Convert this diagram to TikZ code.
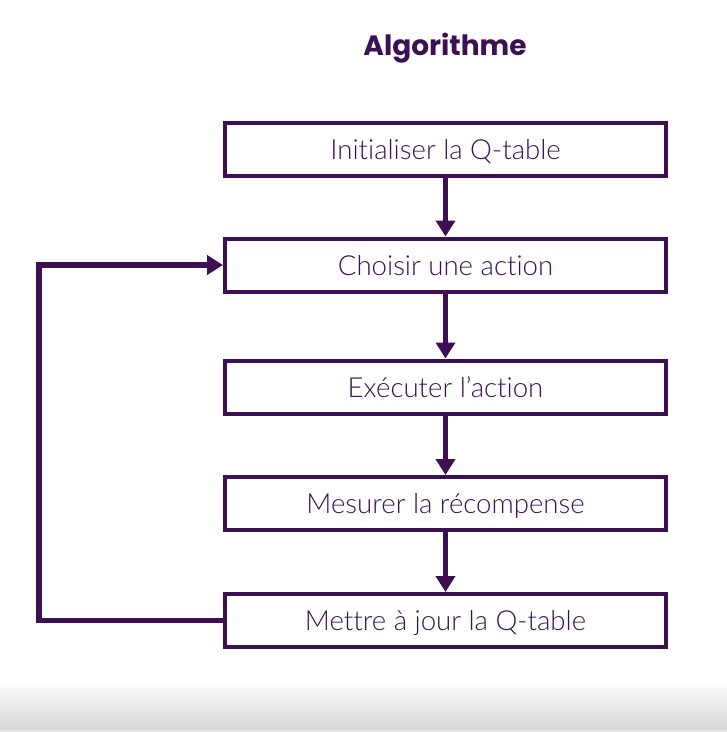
\documentclass[tikz,border=0pt]{standalone}
\usepackage{fontspec}
\newfontfamily\boxfont{Lato Light}[Ligatures={NoCommon,NoContextual}]
\newfontfamily\titlefont{Poppins}
\usetikzlibrary{arrows.meta}
\definecolor{aubergine}{HTML}{3C1053}
\tikzset{
  stepbox/.style={draw=aubergine, line width=4pt, rectangle, minimum width=441pt, minimum height=53pt,
    inner sep=0pt, text height=20pt, text depth=0pt, text=aubergine, font=\boxfont\fontsize{27.6pt}{27.6pt}\selectfont},
  flow/.style={draw=aubergine, line width=5pt, -{Triangle[width=19pt,length=16pt]}},
  loopflow/.style={draw=aubergine, line width=5.5pt, line join=miter, -{Triangle[width=19pt,length=16pt]}},
  titletext/.style={text=aubergine, inner sep=0pt, font=\titlefont\bfseries\fontsize{28pt}{28pt}\selectfont}
}
\begin{document}
\begin{tikzpicture}[x=1pt, y=-1pt]
\useasboundingbox (0,0) rectangle (727,732);
\shade[top color=white, bottom color=black!16] (0,680) rectangle (727,730);
\fill[black!9] (0,730) rectangle (727,732);
\node[titletext, anchor=base] (title) at (445,55) {Algorithme};
\node[stepbox] (a) at (445.5,149.5) {Initialiser la Q-table};
\node[stepbox] (b) at (445.5,265) {Choisir une action};
\node[stepbox] (c) at (445.5,387) {Exécuter l’action};
\node[stepbox] (d) at (445.5,503.5) {Mesurer la récompense};
\node[stepbox] (e) at (445.5,620.5) {Mettre à jour la Q-table};
\coordinate (lc) at (39,400);
\draw[flow] (a) -- (b);
\draw[flow] (b) -- (c);
\draw[flow] (c) -- (d);
\draw[flow] (d) -- (e);
\draw[loopflow] (e.west) -- (e.west -| lc) -- (b.west -| lc) -- (b.west);
\end{tikzpicture}
\end{document}
